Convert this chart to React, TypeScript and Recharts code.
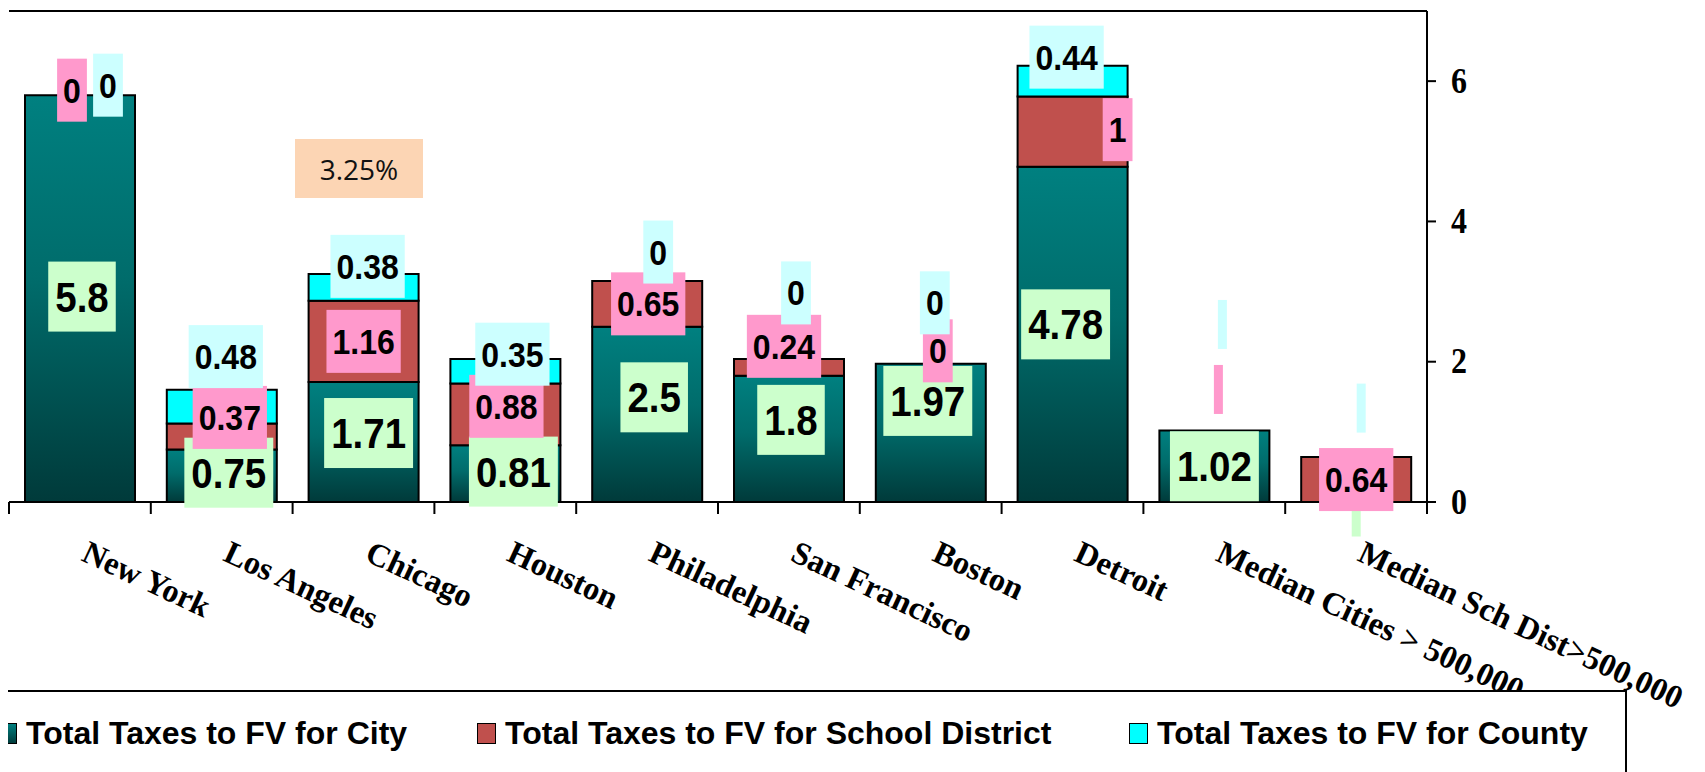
import React from 'react'
import { BarChart, Bar, XAxis, YAxis, CartesianGrid, LabelList } from 'recharts'

const categories = [
  'New York',
  'Los Angeles',
  'Chicago',
  'Houston',
  'Philadelphia',
  'San Francisco',
  'Boston',
  'Detroit',
  'Median Cities > 500,000',
  'Median Sch Dist>500,000',
]
const cityTaxes = [5.8, 0.75, 1.71, 0.81, 2.5, 1.8, 1.97, 4.78, 1.02, null]
const schoolTaxes = [0, 0.37, 1.16, 0.88, 0.65, 0.24, 0, 1, null, 0.64]
const countyTaxes = [0, 0.48, 0.38, 0.35, 0, 0, 0, 0.44, null, null]
const gridTicks = [0, 1, 2, 3, 4, 5, 6, 7]
const axisTicks = [0, 2, 4, 6]

// hand nudges for the label boxes, like the original sheet (dx, dy in px)
const cityNudge = [[2, -2], [7, -3], [5, -9], [8, -2], [7, -17], [2, -19], [-3, -32], [-7, -10], [0, 0], [0, 10]]
const schoolNudge = [[-8, -5], [8, -19], [0, 0], [1, -8], [1, 0], [-5, -21], [7, -13], [45, -2], [4, -41], [0, 0]]
const countyNudge = [[28, -10], [4, -50], [4, -21], [7, -17], [11, -29], [7, -66], [4, -61], [-6, -24], [8, -106], [5, -49]]

const CHART_W = 1705
const CHART_H = 772
const margin = { top: 11, right: 218, bottom: 170, left: 9 }
const RIGHT_AXIS_W = 60
const band = (CHART_W - margin.left - margin.right - RIGHT_AXIS_W) / categories.length

const data = categories.map((name, i) => ({
  name,
  city: cityTaxes[i] ?? 0,
  school: schoolTaxes[i] ?? 0,
  county: countyTaxes[i] ?? 0,
  cityLabel: cityTaxes[i] == null ? '' : String(cityTaxes[i]),
  schoolLabel: schoolTaxes[i] == null ? '' : String(schoolTaxes[i]),
  countyLabel: countyTaxes[i] == null ? '' : String(countyTaxes[i]),
}))

const textW = (s: string, f: number) => {
  let w = 0
  for (const c of s) w += c === '.' ? 0.278 : 0.556
  return w * f
}

function boxLabel(fill: string, fontSize: number, boxH: number, pad: number, nudges: number[][]) {
  return (props: any) => {
    const vb = props.viewBox ?? props
    const x = Number(vb.x)
    const y = Number(vb.y)
    const w = Number(vb.width)
    const h = Number(vb.height)
    const idx = props.index ?? 0
    const text = props.value == null ? '' : String(props.value)
    const [dx, dy] = nudges[idx] ?? [0, 0]
    const cx = x + w / 2 + dx
    // zero-size segments get a 1px stub, so anchor those on their base line
    const cy = (Math.abs(h) <= 1 ? y + h : y + h / 2) + dy
    const bw = text ? textW(text, fontSize) + pad * 2 : 9
    const bh = text ? boxH : 49
    return (
      <g>
        <rect x={cx - bw / 2} y={cy - bh / 2} width={bw} height={bh} fill={fill} />
        {text && (
          <text
            transform={`translate(${cx} ${cy}) scale(1 1.08)`}
            y={fontSize * 0.36}
            textAnchor="middle"
            fontFamily="'Liberation Sans', Arial, sans-serif"
            fontWeight="bold"
            fontSize={fontSize}
            fill="#000"
          >
            {text}
          </text>
        )}
      </g>
    )
  }
}

function CityTick(props: any) {
  const { x, y, payload, index } = props
  const ty = y + 58
  return (
    <g>
      <line x1={x - band / 2} y1={y} x2={x - band / 2} y2={y + 12} stroke="#000" strokeWidth={2} />
      {index === categories.length - 1 && (
        <line x1={x + band / 2} y1={y} x2={x + band / 2} y2={y + 12} stroke="#000" strokeWidth={2} />
      )}
      <text
        x={x}
        y={ty}
        transform={`rotate(25 ${x} ${ty})`}
        fontFamily="'Liberation Serif', 'Times New Roman', serif"
        fontWeight="bold"
        fontSize={32.5}
        fill="#000"
      >
        {payload.value}
      </text>
    </g>
  )
}

function RightTick(props: any) {
  const { x, y, payload } = props
  return (
    <text
      transform={`translate(${x} ${y}) scale(1 1.1)`}
      y={10.5}
      textAnchor="start"
      fontFamily="'Liberation Serif', 'Times New Roman', serif"
      fontWeight="bold"
      fontSize={32}
      fill="#000"
    >
      {payload.value}
    </text>
  )
}

const legendItems = [
  { label: 'Total Taxes to FV for City', bg: 'linear-gradient(#008080, #003c3c)', left: 16 },
  { label: 'Total Taxes to FV for School District', bg: '#C0504D', left: 495 },
  { label: 'Total Taxes to FV for County', bg: '#00FFFF', left: 1147 },
]

export default function App() {
  return (
    <div style={{ position: 'relative', width: CHART_W, height: CHART_H, marginLeft: -8, marginTop: -8, overflow: 'hidden', background: '#fff' }}>
      <BarChart width={CHART_W} height={CHART_H} data={data} margin={margin} barSize={110} barGap={-110}>
        <defs>
          <linearGradient id="cityGrad" x1="0" y1="0" x2="0" y2="1">
            <stop offset="0%" stopColor="#008080" />
            <stop offset="45%" stopColor="#006c6b" />
            <stop offset="100%" stopColor="#003a3a" />
          </linearGradient>
        </defs>
        <CartesianGrid vertical={false} stroke="#000" strokeWidth={2} />
        <XAxis
          dataKey="name"
          interval={0}
          height={100}
          tickLine={false}
          tickSize={0}
          tickMargin={0}
          axisLine={{ stroke: '#000', strokeWidth: 2 }}
          tick={(p: any) => <CityTick {...p} />}
        />
        <YAxis
          yAxisId={0}
          orientation="left"
          width={0}
          domain={[0, 7]}
          ticks={gridTicks}
          tick={false}
          tickLine={false}
          axisLine={{ stroke: '#000', strokeWidth: 2 }}
        />
        <YAxis
          yAxisId="right"
          orientation="right"
          width={RIGHT_AXIS_W}
          domain={[0, 7]}
          ticks={axisTicks}
          tickSize={9}
          tickMargin={15}
          tickLine={{ stroke: '#000', strokeWidth: 2 }}
          axisLine={{ stroke: '#000', strokeWidth: 2 }}
          tick={(p: any) => <RightTick {...p} />}
        />

        {/* visible stacked bars */}
        <Bar dataKey="city" stackId="a" fill="url(#cityGrad)" stroke="#000" strokeWidth={2} isAnimationActive={false} />
        <Bar dataKey="school" stackId="a" fill="#C0504D" stroke="#000" strokeWidth={2} isAnimationActive={false} />
        <Bar dataKey="county" stackId="a" fill="#00FFFF" stroke="#000" strokeWidth={2} isAnimationActive={false} />

        {/* same stack again, transparent, only to carry the label boxes above every bar */}
        <Bar dataKey="city" stackId="b" yAxisId="right" fill="none" minPointSize={1} legendType="none" isAnimationActive={false}>
          <LabelList dataKey="cityLabel" content={boxLabel('#CCFFCC', 38.5, 70, 7, cityNudge)} />
        </Bar>
        <Bar dataKey="school" stackId="b" yAxisId="right" fill="none" minPointSize={1} legendType="none" isAnimationActive={false}>
          <LabelList dataKey="schoolLabel" content={boxLabel('#FF99CC', 32, 63, 6, schoolNudge)} />
        </Bar>
        <Bar dataKey="county" stackId="b" yAxisId="right" fill="none" minPointSize={1} legendType="none" isAnimationActive={false}>
          <LabelList dataKey="countyLabel" content={boxLabel('#CCFFFF', 32, 63, 6, countyNudge)} />
        </Bar>
      </BarChart>

      <div
        style={{
          position: 'absolute',
          left: 295,
          top: 139,
          width: 128,
          height: 59,
          background: '#FCD5B4',
          display: 'flex',
          alignItems: 'center',
          justifyContent: 'center',
          fontFamily: "'Open Sans', sans-serif",
          fontSize: 28,
          color: '#111',
        }}
      >
        3.25%
      </div>

      <div
        style={{
          position: 'absolute',
          left: -20,
          top: 690,
          width: 1647,
          height: 120,
          boxSizing: 'border-box',
          border: '2px solid #000',
          background: '#fff',
        }}
      >
        {legendItems.map((it) => (
          <div
            key={it.label}
            style={{
              position: 'absolute',
              left: it.left,
              top: 22,
              height: 38,
              display: 'flex',
              alignItems: 'center',
              whiteSpace: 'nowrap',
            }}
          >
            <span
              style={{
                display: 'inline-block',
                width: 17,
                height: 19,
                border: '1px solid #000',
                background: it.bg,
                marginRight: 9,
              }}
            />
            <span style={{ fontFamily: "'Liberation Sans', Arial, sans-serif", fontWeight: 'bold', fontSize: 32, lineHeight: '38px', color: '#000' }}>
              {it.label}
            </span>
          </div>
        ))}
      </div>
    </div>
  )
}
